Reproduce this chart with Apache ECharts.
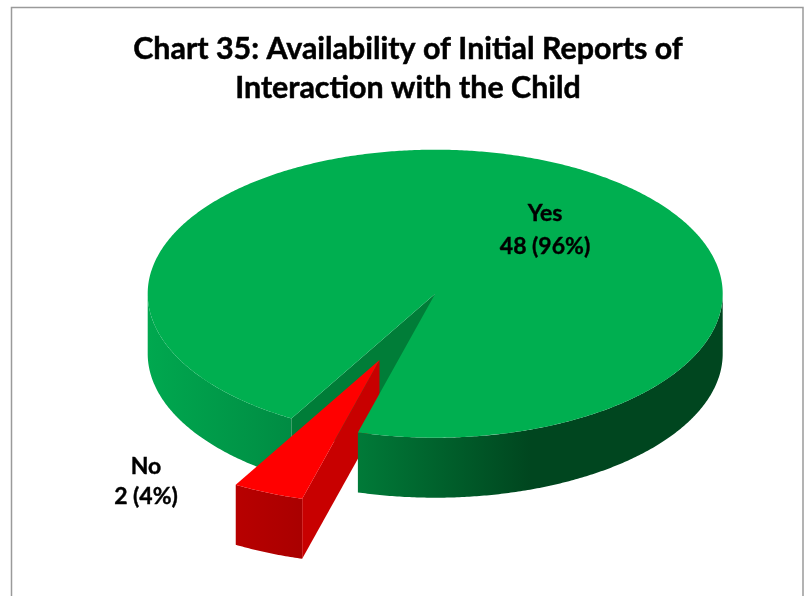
<!DOCTYPE html>
<html>
<head>
<meta charset="utf-8">
<script src="https://cdn.jsdelivr.net/npm/echarts@6/dist/echarts.min.js"></script>
<style>html,body{margin:0;padding:0;background:#fff}#c{width:804px;height:596px}</style>
</head>
<body>
<div id="c"></div>
<script>
var categories = ['Yes', 'No'];
var values = [48, 2];
var percents = [96, 4];
var titleLines = ['Chart 35: Availability of Initial Reports of', 'Interaction with the Child'];

// 3D pie projection settings
var CX = 435.2, CY = 293.7, RX = 287.5, RY = 144, DEPTH = 60;
var FIRST_ANGLE = 210;
var explode = [0, 0.5];
var topColors = ['#00AF50', '#FF0000'];
var edgeColors = ['#007D38', '#C80000'];
var labelAnchors = [[545, 230, 33], [146, 482, 30]];

function wallGradient(i) {
  var stops = i === 0
    ? [[0, '#00A84F'], [0.247, '#008C43'], [0.365, '#007A38'], [0.665, '#00461F'], [1, '#00461F']]
    : [[0, '#C00000'], [0.15, '#B80000'], [0.28, '#A80000'], [1, '#A00000']];
  return new echarts.graphic.LinearGradient(148, 0, 723, 0, stops.map(function (s) {
    return { offset: s[0], color: s[1] };
  }), true);
}
var total = values.reduce(function (a, b) { return a + b; }, 0);

function pt(deg, ox, oy, dz) {
  var t = deg * Math.PI / 180;
  return [CX + ox + RX * Math.sin(t), CY + oy - RY * Math.cos(t) + dz];
}
function arcPts(a, b, ox, oy, dz) {
  var out = [], n = Math.max(2, Math.ceil(Math.abs(b - a) / 0.5));
  for (var i = 0; i <= n; i++) out.push(pt(a + (b - a) * i / n, ox, oy, dz));
  return out;
}
function renderSlice(params, api) {
  var i = params.dataIndex, v = api.value(1), before = 0;
  for (var k = 0; k < i; k++) before += values[k];
  var a0 = FIRST_ANGLE + before / total * 360;
  var a1 = a0 + v / total * 360;
  var mid = (a0 + a1) / 2 * Math.PI / 180;
  var ox = explode[i] * RX * Math.sin(mid), oy = -explode[i] * RY * Math.cos(mid);
  var apex = [CX + ox, CY + oy];
  var zWall = i === 1 ? 20 : 5, zTop = i === 1 ? 25 : 30;
  var kids = [];
  // outer wall: the part of the rim that faces the viewer (90..270 degrees)
  [[90, 270], [450, 630]].forEach(function (w) {
    var s = Math.max(a0, w[0]), e = Math.min(a1, w[1]);
    if (e > s) {
      // the green rim right of the gap sits in front of the red slice's wall
      var z = (i === 0 && s < 360 + 90 + 1 && s >= 450) ? 30 : zWall;
      kids.push({
        type: 'polygon', z2: z,
        shape: { points: arcPts(s, e, ox, oy, 0).concat(arcPts(e, s, ox, oy, DEPTH)) },
        style: { fill: wallGradient(i) }
      });
    }
  });
  // cut faces turned to the viewer
  var edges = [];
  if (Math.sin(a0 * Math.PI / 180) < 0) edges.push(a0);
  if (Math.sin(a1 * Math.PI / 180) > 0) edges.push(a1);
  edges.forEach(function (e) {
    var p = pt(e, ox, oy, 0), q = pt(e, ox, oy, DEPTH);
    kids.push({
      type: 'polygon', z2: i === 1 ? 21 : 6,
      shape: { points: [apex, p, q, [apex[0], apex[1] + DEPTH]] },
      style: { fill: edgeColors[i] }
    });
  });
  // top face
  kids.push({
    type: 'polygon', z2: zTop,
    shape: { points: [apex].concat(arcPts(a0, a1, ox, oy, 0)) },
    style: { fill: topColors[i] }
  });
  // label
  var la = labelAnchors[i];
  var font = 'bold 23px Lato, "Open Sans", sans-serif';
  [categories[i], v + ' (' + percents[i] + '%)'].forEach(function (line, j) {
    kids.push({
      type: 'text', z2: 40,
      style: {
        text: line, x: la[0], y: la[1] + (j - 0.5) * la[2],
        align: 'center', verticalAlign: 'middle', font: font, fill: '#000',
        stroke: '#000', lineWidth: 0.4
      }
    });
  });
  return { type: 'group', children: kids };
}

var chart = echarts.init(document.getElementById('c'), null, { renderer: 'canvas' });
chart.setOption({
  animation: false,
  backgroundColor: '#fff',
  title: {
    text: titleLines.join('\n'),
    left: 403, top: 25, textAlign: 'center',
    textStyle: {
      fontFamily: 'Lato', fontWeight: 'bold', fontSize: 30.4, lineHeight: 39, color: '#000',
      textBorderColor: '#000', textBorderWidth: 0.5
    }
  },
  graphic: [{
    type: 'rect', silent: true,
    shape: { x: 11.5, y: 7.5, width: 791.5, height: 620 },
    style: { fill: 'none', stroke: '#9A9A9A', lineWidth: 1.5 }
  }],
  series: [{
    type: 'custom',
    coordinateSystem: 'none',
    renderItem: renderSlice,
    data: categories.map(function (c, i) { return { name: c, value: [i, values[i]] }; })
  }]
});
</script>
</body>
</html>
